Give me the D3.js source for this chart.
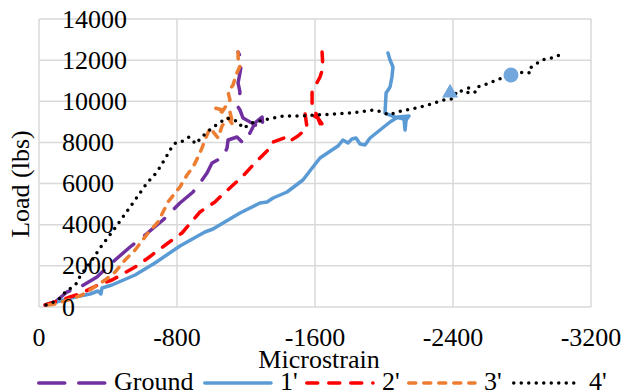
<!DOCTYPE html>
<html><head><meta charset="utf-8">
<script src="https://cdn.jsdelivr.net/npm/d3@7"></script>
</head>
<body style="margin:0"><svg id="c" width="625" height="392" font-family="Times New Roman, Liberation Serif, Tinos, serif"></svg>
<script>
// ---- data (microstrain, load in lbs) ----
const xTicks = [0, -800, -1600, -2400, -3200];
const yTicks = [0, 2000, 4000, 6000, 8000, 10000, 12000, 14000];
const seriesNames = ["Ground", "1'", "2'", "3'", "4'"];

const ground = [[-52,146],[-93,243],[-162,729],[-238,972],[-336,1458],[-441,2285],[-528,2917],[-615,3500],[-719,4229],[-817,5055],[-893,5590],[-933,6028],[-974,6514],[-1003,7000],[-1067,7292],[-1090,7729],[-1096,8118],[-1148,8264],[-1183,7972],[-1223,8458],[-1252,8944],[-1293,9236],[-1299,8701],[-1264,8799],[-1183,9187],[-1165,9576],[-1154,9722],[-1165,10451],[-1154,10889],[-1165,11375],[-1177,12007],[-1154,12395]];

const s1 = [[-35,97],[-122,292],[-209,486],[-296,632],[-342,778],[-359,632],[-365,924],[-423,1069],[-557,1556],[-672,2139],[-817,2965],[-962,3646],[-1009,3792],[-1067,4083],[-1165,4570],[-1281,5055],[-1322,5104],[-1357,5298],[-1438,5590],[-1530,6173],[-1588,6805],[-1629,7243],[-1733,7826],[-1762,8118],[-1791,7972],[-1814,8166],[-1838,8215],[-1861,7923],[-1890,7875],[-1919,8215],[-1977,8604],[-2035,8993],[-2081,9236],[-2145,9285],[-2128,9090],[-2122,8604],[-2116,9139],[-2064,9236],[-2006,9430],[-2012,10403],[-2035,10694],[-2046,11180],[-2052,11667],[-2035,12007],[-2023,12347]];

const s2 = [[-35,97],[-180,486],[-249,681],[-342,1069],[-423,1312],[-557,1944],[-632,2382],[-748,3111],[-829,3597],[-893,4229],[-933,4618],[-1020,5104],[-1049,5347],[-1125,5930],[-1177,6319],[-1241,6903],[-1281,7243],[-1339,7729],[-1357,8021],[-1438,8264],[-1455,8069],[-1501,8312],[-1554,8701],[-1542,9430],[-1583,9333],[-1617,9187],[-1641,8896],[-1641,8653],[-1617,9187],[-1583,9868],[-1583,10451],[-1629,11180],[-1646,11618],[-1641,12395]];

const s3 = [[-52,97],[-93,146],[-168,340],[-249,583],[-313,924],[-383,1312],[-441,1701],[-499,2285],[-557,2771],[-632,3597],[-690,4132],[-748,5104],[-817,5833],[-858,6417],[-893,6805],[-922,7292],[-945,7729],[-962,8118],[-991,8701],[-1038,8215],[-1061,8799],[-1096,9187],[-1125,8847],[-1107,9479],[-1020,9673],[-1061,9479],[-1107,10062],[-1096,10451],[-1125,10791],[-1142,11278],[-1165,11715],[-1154,12104],[-1154,12395]];

const s4 = [[-41,97],[-87,243],[-122,437],[-162,826],[-186,924],[-220,1167],[-238,1507],[-296,2139],[-354,2868],[-441,3840],[-528,4861],[-626,6028],[-684,6562],[-730,7194],[-777,7875],[-800,8021],[-835,8069],[-870,8264],[-910,7923],[-933,8166],[-968,8458],[-1003,8701],[-1043,8944],[-1090,9187],[-1125,9090],[-1160,8993],[-1177,8701],[-1195,8750],[-1235,8944],[-1328,9139],[-1420,9285],[-1519,9285],[-1612,9333],[-1704,9382],[-1803,9430],[-1901,9528],[-1942,9576],[-1988,9479],[-2029,9333],[-2075,9479],[-2162,9625],[-2255,9819],[-2348,10062],[-2394,10111],[-2429,10548],[-2487,10403],[-2481,10694],[-2528,10451],[-2539,10694],[-2580,10791],[-2667,11083],[-2806,11424],[-2846,11375],[-2846,11618],[-2916,12007],[-2997,12152],[-3026,12298]];

const markerTriangle = [[-2383,10403]];
const markerCircle = [[-2736,11278]];

const colors = ["#7030a0", "#5b9bd5", "#ff0000", "#ed7d31", "#000000"];
const dashes = ["26 14", null, "11 11", "7 8", "0 7.5"];
const allSeries = [ground, s1, s2, s3, s4];

// ---- chart ----
const svg = d3.select("#c");
const FONT = "Times New Roman, Liberation Serif, Tinos, serif";
const FS = "26px";
const x = d3.scaleLinear().domain([0, -3200]).range([39, 591]);
const y = d3.scaleLinear().domain([0, 14000]).range([307, 19]);

function txt(sel) {
  return sel.attr("font-family", FONT).attr("font-size", FS).attr("fill", "#000");
}

// gridlines
svg.append("g").selectAll("line").data(yTicks).join("line")
  .attr("x1", x(0)).attr("x2", x(-3200))
  .attr("y1", d => y(d)).attr("y2", d => y(d))
  .attr("stroke", "#d9d9d9").attr("stroke-width", 1.5);
svg.append("g").selectAll("line").data(xTicks).join("line")
  .attr("y1", y(0)).attr("y2", y(14000))
  .attr("x1", d => x(d)).attr("x2", d => x(d))
  .attr("stroke", "#d9d9d9").attr("stroke-width", 1.5);

// x tick labels
txt(svg.append("g").selectAll("text").data(xTicks).join("text")
  .attr("x", d => x(d)).attr("y", 346).attr("text-anchor", "middle"))
  .text(d => String(d));

// lines
const line = d3.line().x(d => x(d[0])).y(d => y(d[1]));
allSeries.forEach((s, i) => {
  svg.append("path").datum(s).attr("d", line)
    .attr("fill", "none").attr("stroke", colors[i]).attr("stroke-width", 3.5)
    .attr("stroke-linecap", "round").attr("stroke-linejoin", "round")
    .attr("stroke-dasharray", dashes[i]);
});

// markers
svg.append("g").selectAll("path").data(markerTriangle).join("path")
  .attr("transform", d => `translate(${x(d[0])},${y(d[1])})`)
  .attr("d", d3.symbol().type(d3.symbolTriangle).size(110))
  .attr("fill", "#72a7dd");
svg.append("g").selectAll("circle").data(markerCircle).join("circle")
  .attr("cx", d => x(d[0])).attr("cy", d => y(d[1])).attr("r", 7.5)
  .attr("fill", "#72a7dd");

// y tick labels (drawn inside the plot, left-aligned)
txt(svg.append("g").selectAll("text").data(yTicks).join("text")
  .attr("x", 62).attr("y", d => y(d) + 8.5).attr("text-anchor", "start"))
  .text(d => String(d));

// axis titles
txt(svg.append("text").attr("x", 319).attr("y", 368).attr("text-anchor", "middle"))
  .text("Microstrain");
txt(svg.append("text").attr("transform", "translate(29,184) rotate(-90)")
  .attr("text-anchor", "middle")).text("Load (lbs)");

// legend
const legX = [37, 203, 305, 407, 512];
const leg = svg.append("g");
seriesNames.forEach((n, i) => {
  leg.append("line").attr("x1", legX[i] + 1.75).attr("x2", legX[i] + 68)
    .attr("y1", 383).attr("y2", 383)
    .attr("stroke", colors[i]).attr("stroke-width", 3.5)
    .attr("stroke-linecap", "round").attr("stroke-dasharray", dashes[i]);
  txt(leg.append("text").attr("x", legX[i] + 77).attr("y", 390)).text(n);
});
</script></body></html>
